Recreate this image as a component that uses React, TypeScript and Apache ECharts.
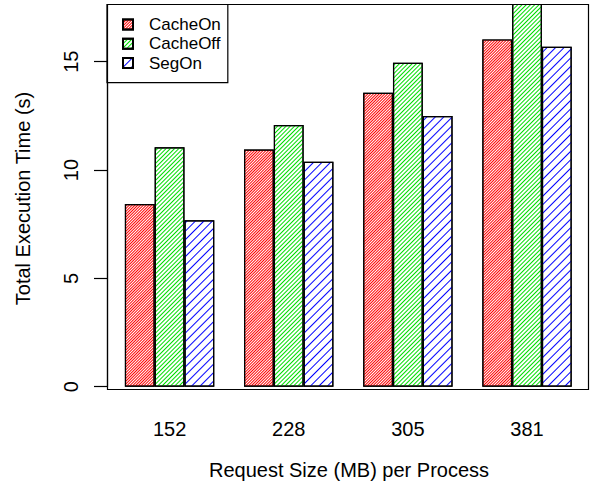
import React, { useEffect, useRef } from "react";
import * as echarts from "echarts";

const categories = ["152", "228", "305", "381"];
const seriesNames = ["CacheOn", "CacheOff", "SegOn"];
const cacheOn = [8.43, 10.95, 13.57, 16.03];
const cacheOff = [11.05, 12.08, 14.95, 17.7];
const segOn = [7.68, 10.38, 12.49, 15.69];
const yTicks = [0, 5, 10, 15];

const FONT = "'Liberation Sans', Arial, Helvetica, sans-serif";

function hatch(color: string, gap: number) {
  return {
    symbol: "rect",
    symbolSize: 1,
    color,
    dashArrayX: [1, 0],
    dashArrayY: [1, gap],
    rotation: -Math.PI / 4,
  };
}

export default function App() {
  const ref = useRef<HTMLDivElement>(null);
  useEffect(() => {
    if (!ref.current) return;
    const chart = echarts.init(ref.current, null, { renderer: "svg" });
    const values = [cacheOn, cacheOff, segOn];
    const decals = [hatch("#ff0000", 1), hatch("#00dd00", 2), hatch("#0000ff", 5)];
    chart.setOption({
      animation: false,
      backgroundColor: "#ffffff",
      textStyle: { fontFamily: FONT, color: "#000" },
      grid: { left: 110, right: 5.4, top: 4.5, bottom: 102.3, containLabel: false },
      legend: {
        data: seriesNames,
        orient: "vertical",
        left: 107,
        top: 4.5,
        padding: [11.5, 7, 11, 15],
        itemGap: 2.3,
        itemWidth: 10,
        itemHeight: 10,
        icon: "rect",
        borderColor: "#000",
        borderWidth: 1.2,
        borderRadius: 0,
        backgroundColor: "#fff",
        textStyle: { fontFamily: FONT, fontSize: 17, color: "#000", padding: [0, 0, 0, 11] },
      },
      xAxis: {
        type: "category",
        data: categories,
        axisLine: { show: false },
        axisTick: { show: false },
        axisLabel: { fontFamily: FONT, fontSize: 20, color: "#000", margin: 32 },
        splitLine: { show: false },
      },
      yAxis: {
        type: "value",
        min: 0,
        max: 17.64,
        interval: 5,
        offset: 3,
        axisLine: { show: false },
        axisTick: { show: true, length: 13, lineStyle: { color: "#000", width: 1.2 }, customValues: yTicks },
        axisLabel: { fontFamily: FONT, fontSize: 20, color: "#000", rotate: 90, margin: 26, customValues: yTicks },
        splitLine: { show: false },
      },
      series: seriesNames.map((name, i) => ({
        name,
        type: "bar",
        data: values[i],
        barWidth: 29.8,
        barGap: "0%",
        clip: true,
        itemStyle: {
          color: "#ffffff",
          borderColor: "#000",
          borderWidth: 1.2,
          decal: decals[i],
        },
      })),
      graphic: [
        {
          type: "rect",
          shape: { x: 107.5, y: 4.5, width: 481, height: 385 },
          style: { fill: "none", stroke: "#000", lineWidth: 1.2 },
          z: 100,
          silent: true,
        },
        {
          type: "line",
          shape: { x1: 107.5, y1: 61.7, x2: 107.5, y2: 386.7 },
          style: { stroke: "#000", lineWidth: 1.2 },
          silent: true,
        },
        {
          type: "text",
          x: 22.5,
          y: 198.5,
          rotation: Math.PI / 2,
          style: {
            text: "Total Execution Time (s)",
            fontFamily: FONT,
            fontSize: 20,
            fill: "#000",
            textAlign: "center",
            textVerticalAlign: "middle",
          },
          silent: true,
        },
        {
          type: "text",
          x: 349,
          y: 470,
          style: {
            text: "Request Size (MB) per Process",
            fontFamily: FONT,
            fontSize: 20,
            fill: "#000",
            textAlign: "center",
            textVerticalAlign: "middle",
          },
          silent: true,
        },
      ],
    });
    return () => chart.dispose();
  }, []);
  return <div ref={ref} style={{ width: 592, height: 489, position: "absolute", left: 0, top: 0 }} />;
}
